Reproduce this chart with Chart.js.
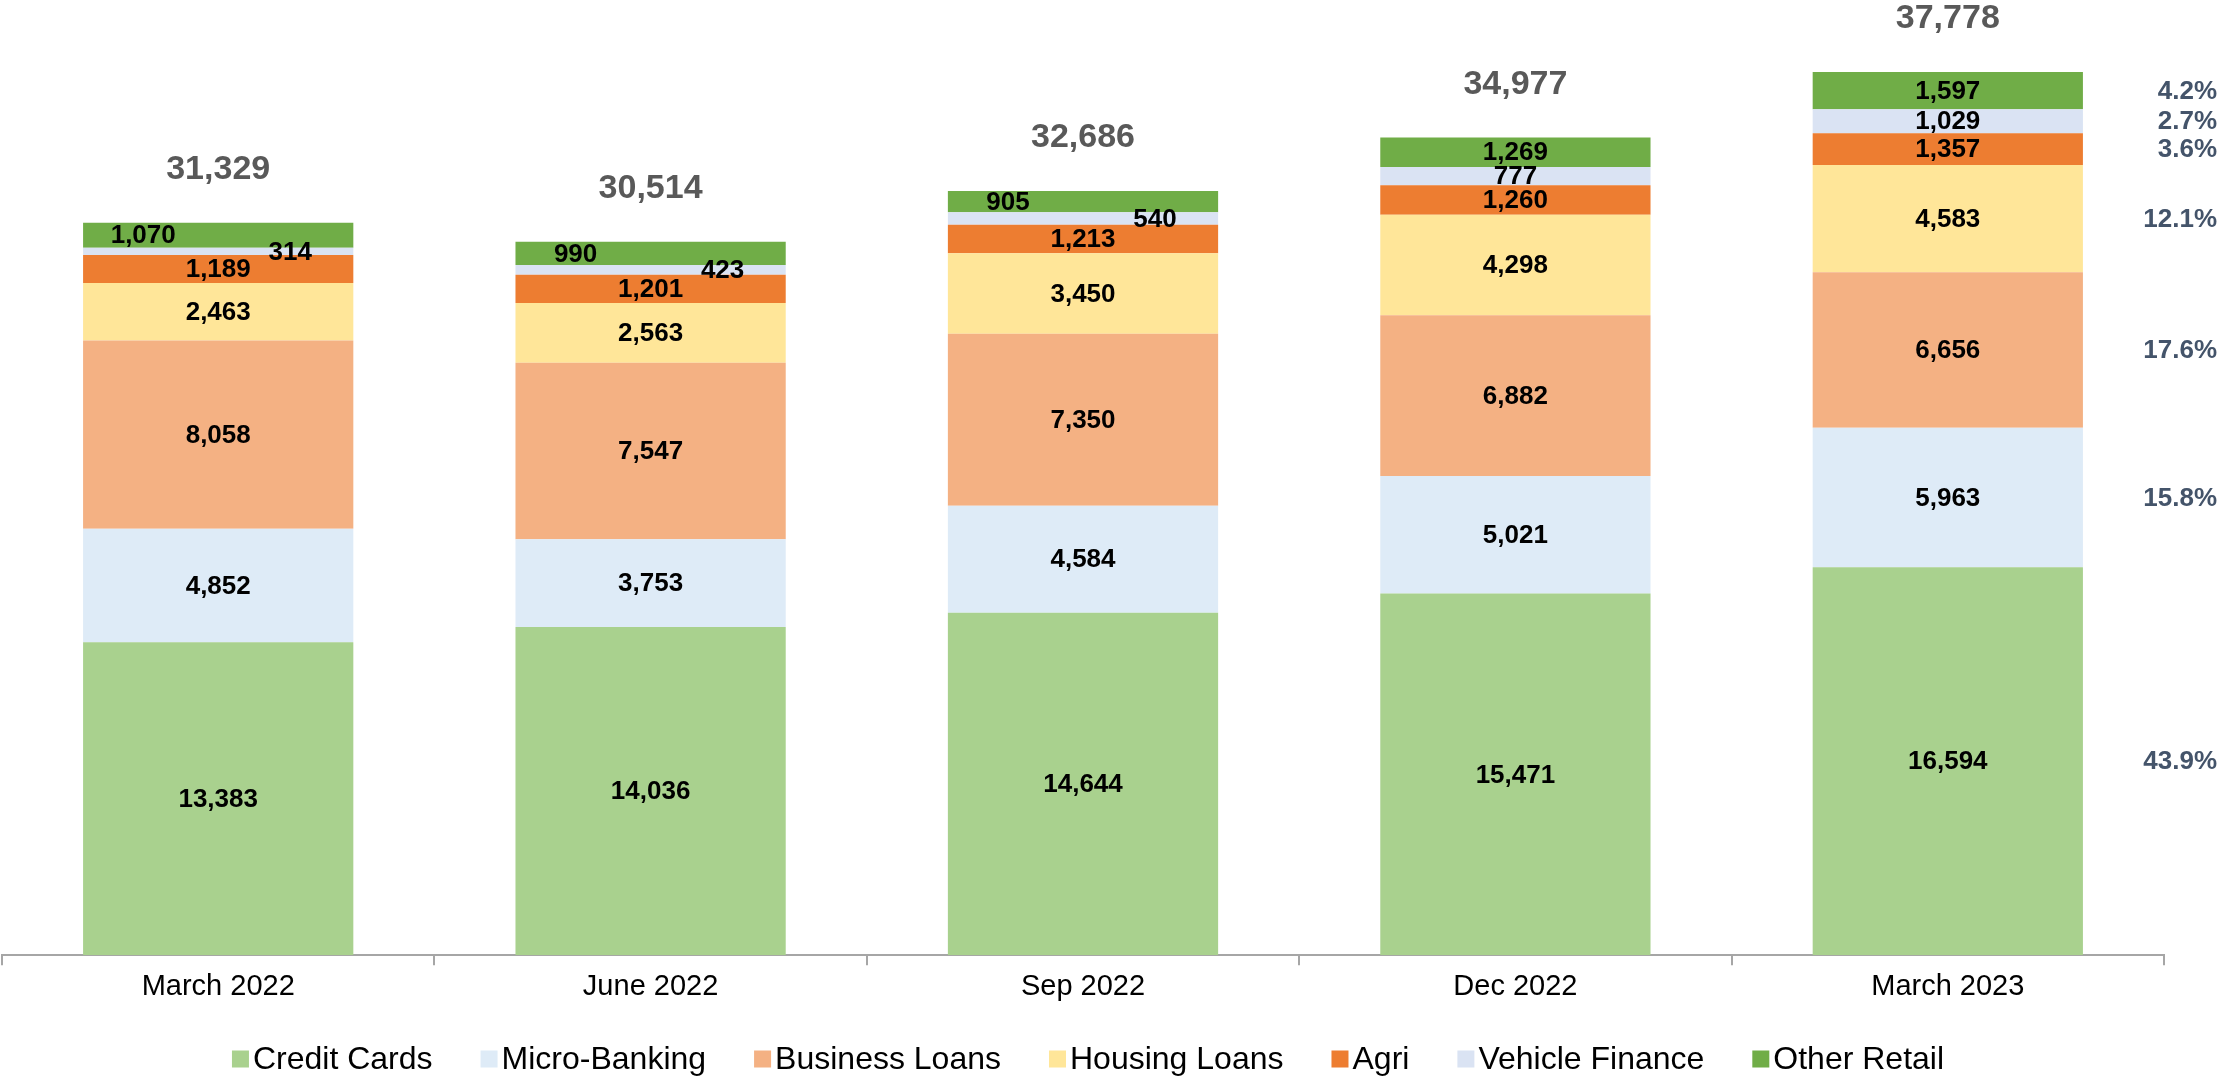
<!DOCTYPE html>
<html>
<head>
<meta charset="utf-8">
<script src="https://cdn.jsdelivr.net/npm/chart.js@4"></script>
<style>
  body { margin: 0; background: #fff; }
  #wrap { width: 2229px; height: 1076px; position: relative; }
</style>
</head>
<body>
<div id="wrap"><canvas id="loanChart"></canvas></div>
<script>
// categories
var periods = ['March 2022', 'June 2022', 'Sep 2022', 'Dec 2022', 'March 2023'];

// series values, bottom to top
var creditCards    = [13383, 14036, 14644, 15471, 16594];
var microBanking   = [4852, 3753, 4584, 5021, 5963];
var businessLoans  = [8058, 7547, 7350, 6882, 6656];
var housingLoans   = [2463, 2563, 3450, 4298, 4583];
var agri           = [1189, 1201, 1213, 1260, 1357];
var vehicleFinance = [314, 423, 540, 777, 1029];
var otherRetail    = [1070, 990, 905, 1269, 1597];

// totals printed above the bars
var totals = [31329, 30514, 32686, 34977, 37778];

// share of the last period, same order as the series
var shares = ['43.9%', '15.8%', '17.6%', '12.1%', '3.6%', '2.7%', '4.2%'];

var fmt = function (v) { return v.toLocaleString('en-US'); };

var labelFont = 'Liberation Sans, Arial, sans-serif';

// texts on the bars, the totals and the shares on the right
var barLabels = {
    id: 'barLabels',
    afterDatasetsDraw: function (chart) {
        var ctx = chart.ctx;
        var n = chart.data.datasets.length;
        ctx.save();
        ctx.textBaseline = 'middle';

        // bar values
        ctx.font = 'bold 26px ' + labelFont;
        ctx.fillStyle = '#000';
        ctx.textAlign = 'center';
        var vehMeta = chart.getDatasetMeta(5);
        chart.data.datasets.forEach(function (ds, d) {
            var meta = chart.getDatasetMeta(d);
            meta.data.forEach(function (bar, i) {
                var x = bar.x;
                var y = (bar.y + bar.base) / 2;
                // thin top segments: spread the two labels apart
                var thin = Math.abs(vehMeta.data[i].base - vehMeta.data[i].y) < 15;
                if (thin && d === 5) x += 72;
                if (thin && d === 6) x -= 75;
                ctx.fillText(fmt(ds.data[i]), x, y + 1);
            });
        });

        // totals
        ctx.font = 'bold 34px ' + labelFont;
        ctx.fillStyle = '#595959';
        var top = chart.getDatasetMeta(n - 1);
        top.data.forEach(function (bar, i) {
            ctx.fillText(fmt(totals[i]), bar.x, bar.y - 53);
        });

        // shares of the last period
        ctx.font = 'bold 26px ' + labelFont;
        ctx.fillStyle = '#44546A';
        ctx.textAlign = 'right';
        var last = periods.length - 1;
        chart.data.datasets.forEach(function (ds, d) {
            var bar = chart.getDatasetMeta(d).data[last];
            ctx.fillText(shares[d], 2217, (bar.y + bar.base) / 2 + 1);
        });
        ctx.restore();
    }
};

// legend row along the bottom, tight marker/text spacing
var bottomLegend = {
    id: 'bottomLegend',
    afterDraw: function (chart) {
        var ctx = chart.ctx;
        var box = 17, gapText = 4, gapItem = 48, y = 1059;
        ctx.save();
        ctx.font = '32px ' + labelFont;
        ctx.textBaseline = 'middle';
        ctx.textAlign = 'left';
        var items = chart.data.datasets;
        var total = 0;
        items.forEach(function (ds, i) {
            total += box + gapText + ctx.measureText(ds.label).width;
            if (i < items.length - 1) total += gapItem;
        });
        var x = 1088 - total / 2;
        items.forEach(function (ds) {
            ctx.fillStyle = ds.backgroundColor;
            ctx.fillRect(x, y - box / 2, box, box);
            x += box + gapText;
            ctx.fillStyle = '#000';
            ctx.fillText(ds.label, x, y + 1);
            x += ctx.measureText(ds.label).width + gapItem;
        });
        ctx.restore();
    }
};

var ctx = document.getElementById('loanChart').getContext('2d');
var loanChart = new Chart(ctx, {
    type: 'bar',
    data: {
        labels: periods,
        datasets: [
            { label: 'Credit Cards', data: creditCards, backgroundColor: '#A9D18E' },
            { label: 'Micro-Banking', data: microBanking, backgroundColor: '#DEEBF7' },
            { label: 'Business Loans', data: businessLoans, backgroundColor: '#F4B183' },
            { label: 'Housing Loans', data: housingLoans, backgroundColor: '#FFE699' },
            { label: 'Agri', data: agri, backgroundColor: '#ED7D31' },
            { label: 'Vehicle Finance', data: vehicleFinance, backgroundColor: '#DAE3F3' },
            { label: 'Other Retail', data: otherRetail, backgroundColor: '#70AD47' }
        ]
    },
    options: {
        responsive: true,
        maintainAspectRatio: false,
        animation: false,
        datasets: {
            bar: { barPercentage: 0.625, categoryPercentage: 1.0, borderWidth: 0 }
        },
        layout: { padding: { left: 2, right: 65, top: 20, bottom: 68 } },
        plugins: {
            tooltip: { enabled: false },
            legend: { display: false }
        },
        scales: {
            x: {
                stacked: true,
                border: { display: true, color: '#A6A6A6', width: 2 },
                grid: {
                    offset: true,
                    drawOnChartArea: false,
                    drawTicks: true,
                    tickLength: 10,
                    color: '#A6A6A6',
                    lineWidth: 2
                },
                ticks: {
                    color: '#000',
                    font: { family: labelFont, size: 29 },
                    padding: 4
                }
            },
            y: {
                stacked: true,
                display: false,
                min: 0,
                max: 40000
            }
        }
    },
    plugins: [barLabels, bottomLegend]
});
</script>
</body>
</html>
